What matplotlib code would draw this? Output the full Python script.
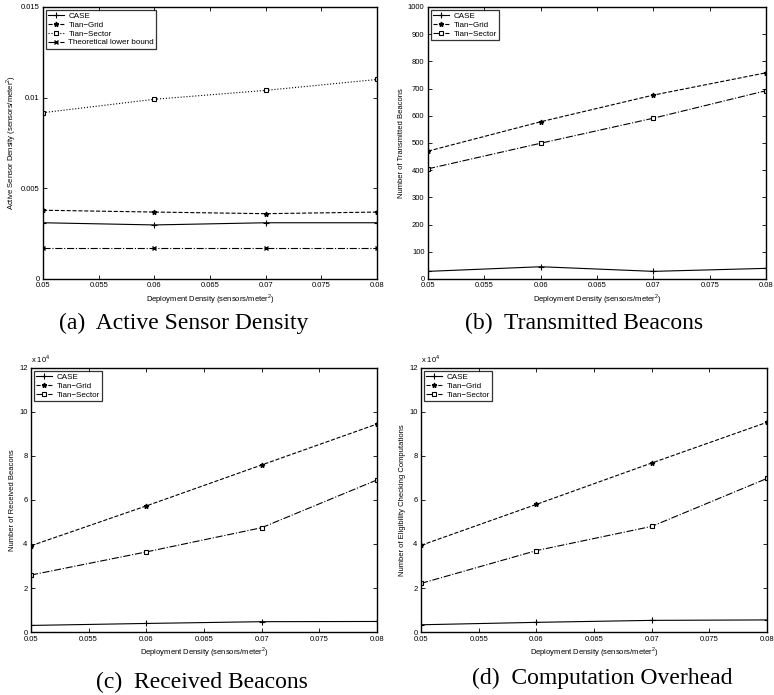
import numpy as np
import matplotlib
matplotlib.use("Agg")
import matplotlib.pyplot as plt
from matplotlib.ticker import FuncFormatter

plt.rcParams['font.family'] = ['Liberation Sans', 'DejaVu Sans']
plt.rcParams['mathtext.fontset'] = 'custom'
plt.rcParams['mathtext.rm'] = 'Liberation Sans'

density = [0.05, 0.06, 0.07, 0.08]
xticks = [0.05, 0.055, 0.06, 0.065, 0.07, 0.075, 0.08]
xticklabels = ["0.05", "0.055", "0.06", "0.065", "0.07", "0.075", "0.08"]

# (a) active sensor density
act_case = [0.0031, 0.00298, 0.0031, 0.0031]
act_grid = [0.00379, 0.00369, 0.0036, 0.00369]
act_sector = [0.00917, 0.00991, 0.0104, 0.0110]
act_lower = [0.00171, 0.00171, 0.00171, 0.00171]

# (b) transmitted beacons
tx_case = [28, 45, 28, 39]
tx_grid = [470, 578, 676, 758]
tx_sector = [405, 499, 591, 692]

# (c) received beacons
rx_case = [3000, 3900, 4700, 4800]
rx_grid = [39200, 57300, 75900, 94500]
rx_sector = [25900, 36400, 47400, 69100]

# (d) eligibility checking computations
cmp_case = [3300, 4400, 5300, 5500]
cmp_grid = [39400, 58000, 76800, 95300]
cmp_sector = [22100, 37000, 48000, 69800]

fig = plt.figure(figsize=(7.74, 6.95), dpi=100)

def setup(ax, ylim, yticks, ylabel, sci=False):
    ax.set_xlim(0.05, 0.08)
    ax.set_xticks(xticks)
    ax.set_xticklabels(xticklabels)
    ax.set_ylim(*ylim)
    ax.set_yticks(yticks)
    if sci:
        ax.yaxis.set_major_formatter(FuncFormatter(lambda v, p: "%g" % (v / 1e4)))
        ax.text(0.0, 1.012, "x 10$^4$", transform=ax.transAxes, fontsize=5.5,
                ha='left', va='bottom')
    ax.tick_params(direction='in', top=True, right=True, labelsize=5.5,
                   length=3, width=0.6, pad=2.5)
    for s in ax.spines.values():
        s.set_linewidth(1.0)
    ax.set_xlabel("Deployment Density (sensors/meter$^2$)", fontsize=5.5, labelpad=2)
    ax.set_ylabel(ylabel, fontsize=5.5, labelpad=2)
    leg = ax.legend(loc='upper left', fontsize=5.8, frameon=True, fancybox=False,
                    edgecolor='black', borderpad=0.3, labelspacing=0.15,
                    handlelength=2.0, handletextpad=0.5, borderaxespad=0.35)
    leg.get_frame().set_linewidth(0.9)

kw = dict(color='black', linewidth=0.8)
sq = dict(marker='s', markersize=3, markerfacecolor='white', markeredgewidth=0.8)
st = dict(marker='*', markersize=3.5)
pl = dict(marker='+', markersize=4, markeredgewidth=0.8)

ax1 = fig.add_axes([0.0556, 0.5986, 0.4315, 0.3914])
ax1.plot(density, act_case, '-', label='CASE', **pl, **kw)
ax1.plot(density, act_grid, '--', label='Tian\u2212Grid', **st, **kw)
ax1.plot(density, act_sector, ':', label='Tian\u2212Sector', **sq, **kw)
ax1.plot(density, act_lower, '-.', marker='x', markersize=3, label='Theoretical lower bound', **kw)
setup(ax1, (0, 0.015), [0, 0.005, 0.01, 0.015], "Active Sensor Density (sensors/meter$^2$)")
ax1.set_yticklabels(["0", "0.005", "0.01", "0.015"])

ax2 = fig.add_axes([0.553, 0.5986, 0.4367, 0.3914])
ax2.plot(density, tx_case, '-', label='CASE', **pl, **kw)
ax2.plot(density, tx_grid, '--', label='Tian\u2212Grid', **st, **kw)
ax2.plot(density, tx_sector, '-.', label='Tian\u2212Sector', **sq, **kw)
setup(ax2, (0, 1000), np.arange(0, 1001, 100), "Number of Transmitted Beacons")

ax3 = fig.add_axes([0.040, 0.0906, 0.447, 0.380])
ax3.plot(density, rx_case, '-', label='CASE', **pl, **kw)
ax3.plot(density, rx_grid, '--', label='Tian\u2212Grid', **st, **kw)
ax3.plot(density, rx_sector, '-.', label='Tian\u2212Sector', **sq, **kw)
setup(ax3, (0, 120000), np.arange(0, 120001, 20000), "Number of Received Beacons", sci=True)

ax4 = fig.add_axes([0.544, 0.0906, 0.447, 0.380])
ax4.plot(density, cmp_case, '-', label='CASE', **pl, **kw)
ax4.plot(density, cmp_grid, '--', label='Tian\u2212Grid', **st, **kw)
ax4.plot(density, cmp_sector, '-.', label='Tian\u2212Sector', **sq, **kw)
setup(ax4, (0, 120000), np.arange(0, 120001, 20000), "Number of Eligibility Checking Computations", sci=True)

cap = dict(fontsize=17, family='Liberation Serif', ha='center', va='center')
fig.text(184 / 774, 1 - 323 / 695, "(a)  Active Sensor Density", **cap)
fig.text(584 / 774, 1 - 323 / 695, "(b)  Transmitted Beacons", **cap)
fig.text(202 / 774, 1 - 682 / 695, "(c)  Received Beacons", **cap)
fig.text(602 / 774, 1 - 678 / 695, "(d)  Computation Overhead", **cap)

fig.savefig("out.png", dpi=100)
